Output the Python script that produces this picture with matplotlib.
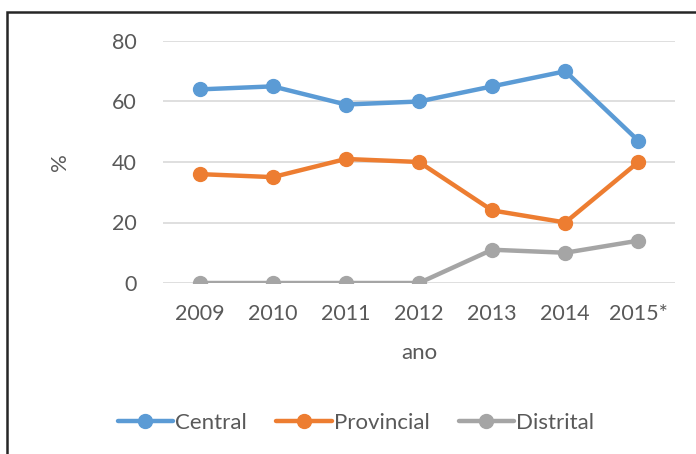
import matplotlib
matplotlib.use("Agg")
import matplotlib.pyplot as plt
from matplotlib.patches import Rectangle

years = ["2009", "2010", "2011", "2012", "2013", "2014", "2015*"]
central = [64, 65, 59, 60, 65, 70, 47]
provincial = [36, 35, 41, 40, 24, 20, 40]
distrital = [0, 0, 0, 0, 11, 10, 14]

plt.rcParams['font.family'] = ['Lato', 'DejaVu Sans']
txt = '#595959'

fig = plt.figure(figsize=(6.96, 4.54), dpi=100)
ax = fig.add_axes([163/696, 1-283/454, 512/696, 242/454])

x = list(range(len(years)))
for vals, col, lab in [(central, '#5B9BD5', 'Central'),
                       (provincial, '#ED7D31', 'Provincial'),
                       (distrital, '#A5A5A5', 'Distrital')]:
    ax.plot(x, vals, color=col, lw=3.2, marker='o', ms=10, label=lab,
            solid_capstyle='round', zorder=3)

ax.set_xlim(-0.5, 6.5)
ax.set_ylim(0, 80)
ax.set_yticks([0, 20, 40, 60, 80])
ax.set_xticks(x)
ax.set_xticklabels(years)
ax.grid(axis='y', color='#D9D9D9', lw=1.2)
ax.set_axisbelow(True)
for s in ['top', 'right', 'left', 'bottom']:
    ax.spines[s].set_visible(False)
ax.tick_params(length=0, labelsize=15.5, colors=txt)
ax.tick_params(axis='y', pad=19)
ax.tick_params(axis='x', pad=15)
ax.set_xlabel('ano', fontsize=16, color=txt, labelpad=14)
ax.set_ylabel('%', fontsize=16, color=txt, labelpad=30)
for lab in ax.get_xticklabels() + ax.get_yticklabels():
    lab.set_color(txt)

leg = fig.legend(loc='center', bbox_to_anchor=(356/696, 1-423/454), ncol=3,
                 frameon=False, fontsize=16, handlelength=2.5, handletextpad=0.1,
                 columnspacing=1.3)
for t in leg.get_texts():
    t.set_color(txt)

fig.patches.append(Rectangle((7/696, -0.2), 1.5, 1-12/454+0.2,
                             transform=fig.transFigure, fill=False,
                             edgecolor='#262626', lw=1.8))

fig.savefig('out.png', dpi=100)
